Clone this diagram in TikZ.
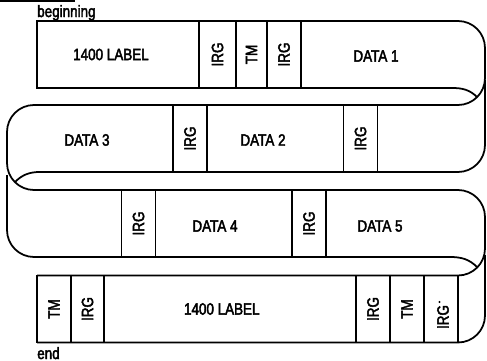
\documentclass[tikz,border=0pt]{standalone}
\usepackage{fontspec}
\usepackage{tikz}
\usetikzlibrary{positioning}
\newfontfamily\tapesans{Liberation Sans}[FakeStretch=0.82, FakeBold=2.5]

\begin{document}
\begin{tikzpicture}[x=0.3mm, y=-0.3mm,
  every node/.style={font=\tapesans\fontsize{14}{16}\selectfont, align=center},
  tapeline/.style={line width=1.5pt},
  gapcell/.style={draw, line width=1.5pt, rotate=90, inner sep=0pt, minimum width=20.1mm, minimum height=10.2mm},
  blockcell/.style={draw, line width=1.5pt, inner sep=0pt, minimum height=20.1mm}]
  \useasboundingbox (0,0) rectangle (487,361);
  \draw[line width=1.6pt] (0,1) -- (75,1);
  \node[anchor=base west, inner sep=0pt] (start) at (37,17) {beginning};
  % first row
  \node[blockcell, minimum width=48.6mm] (label1) at (118,54.5) {1400 LABEL\hspace*{12pt}};
  \node[gapcell, minimum height=11.1mm] (irg1) at (217.5,54.5) {IRG};
  \node[gapcell, minimum height=9.3mm] (tm1) at (251.5,54.5) {TM};
  \node[gapcell] (irg2) at (284,54.5) {IRG};
  \node (data1) at (376,56) {DATA 1};
  % second row
  \node (data3) at (87,140) {DATA 3};
  \node[gapcell] (irg3) at (190,138.5) {IRG};
  \node (data2) at (263,140) {DATA 2};
  \node[gapcell] (irg4) at (360.5,138.5) {IRG};
  % third row
  \node[gapcell] (irg5) at (138.5,223.5) {IRG};
  \node (data4) at (215,226) {DATA 4};
  \node[gapcell] (irg6) at (309,223.5) {IRG};
  \node (data5) at (380,226) {DATA 5};
  % last row
  \node[gapcell] (tm2) at (54,309) {TM};
  \node[gapcell] (irg7) at (87.5,309) {IRG};
  \node[blockcell, minimum width=75.6mm] (label2) at (230,309) {1400 LABEL\hspace*{14pt}};
  \node[gapcell] (irg8) at (373,309) {IRG};
  \node[gapcell] (tm3) at (407,309) {TM};
  \node[gapcell] (irg9) at (441,309) {};
  \node[rotate=90, inner sep=0pt] (irg9text) at (443,317) {IRG};
  \fill (439.5,302) circle (0.35mm);
  \node[anchor=base west, inner sep=0pt] (finish) at (37,359) {end};
  % tape edges and folds
  \draw[tapeline, rounded corners=8.1mm] (37,21) -- (485,21) -- (485,105) -- (7,105) -- (7,190) -- (485,190) -- (485,275.5) -- (37,275.5);
  \draw[tapeline] (37,88) -- (452,88) to[out=0, in=135] (477.1,97.1);
  \draw[tapeline, rounded corners=8.1mm] (485,80) -- (485,172) -- (40,172);
  \draw[tapeline] (40,172) to[out=180, in=45] (14.9,182.1);
  \draw[tapeline, rounded corners=8.1mm] (7,175) -- (7,257) -- (450,257);
  \draw[tapeline] (450,257) to[out=0, in=135] (477.1,267.1);
  \draw[tapeline, rounded corners=8.1mm] (37,342.5) -- (485,342.5) -- (485,255);
\end{tikzpicture}
\end{document}
